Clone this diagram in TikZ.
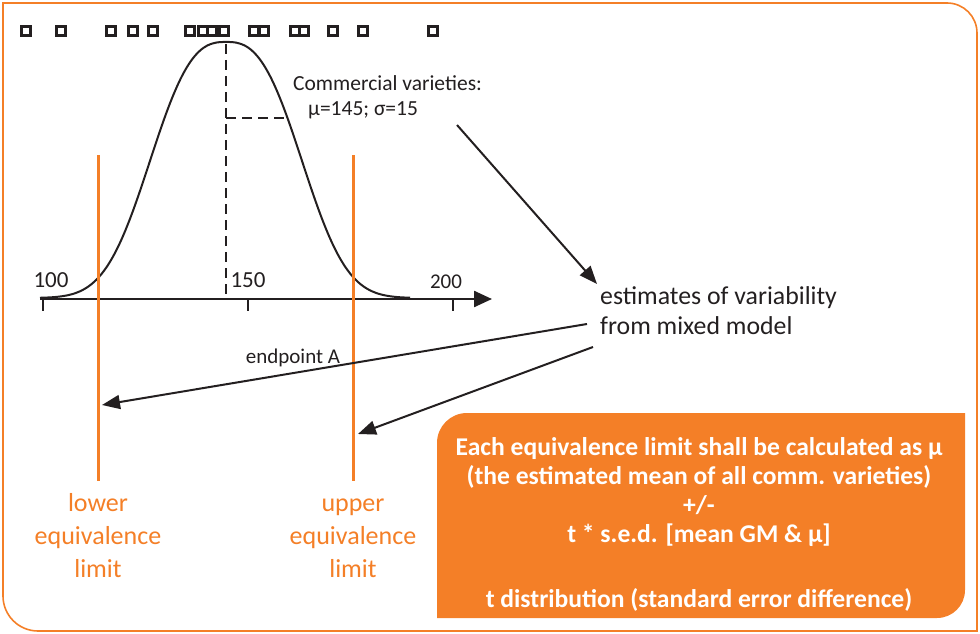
\documentclass[tikz,border=0pt]{standalone}
\usepackage{fontspec}
\setmainfont{Carlito}
\usetikzlibrary{arrows.meta}
\definecolor{orng}{HTML}{F47F27}
\definecolor{ink}{HTML}{231F20}
\begin{document}
\begin{tikzpicture}[x=1pt,y=-1pt,
  sq/.style={draw=ink, line width=3.6pt, minimum size=9pt, inner sep=0pt},
  lbl/.style={text=ink, inner sep=0pt},
  orngline/.style={draw=orng, line width=3pt},
  orngtxt/.style={text=orng, align=center, inner sep=0pt, font=\fontsize{26}{33}\selectfont},
  arr/.style={draw=ink, line width=2pt, -{Triangle[length=18pt,width=14pt]}},
  dsh/.style={draw=ink, line width=2.6pt, dash pattern=on 10pt off 6pt}
]
\useasboundingbox (0,0) rectangle (980,634);
% frame
\draw[orng, line width=1.6pt] (3,3) -- (947,3) .. controls (963.6,3) and (977,16.4) .. (977,33) -- (977,631) -- (38,631) .. controls (18.7,631) and (3,615.3) .. (3,596) -- cycle;
% box
\fill[orng] (437,443) .. controls (437,426.4) and (450.4,413) .. (467,413) -- (965,413) -- (965,590) .. controls (965,605.5) and (952.5,618) .. (937,618) -- (437,618) -- cycle;
\node[text=white, align=center, inner sep=0pt, font=\bfseries\fontsize{25.6}{29}\selectfont] (box) at (699,524) {Each equivalence limit shall be calculated as μ\\(the estimated mean of all comm. varieties)\\+/-\\t * s.e.d. [mean GM \& μ]\\[36pt]t distribution (standard error difference)};
% squares
\foreach \xx [count=\i] in {26,61,111,133,153,190,203,212,224,254,264,295,304,333,363,433}
  \node[sq] (s\i) at (\xx,31) {};
% curve
\draw[ink, line width=2pt] plot[domain=40:410, samples=180, smooth] (\x, {298 - 256*exp(-exp(2.7*ln((abs(\x-226)+0.01)/90.5)))});
\draw[dsh] (226,44) -- (226,297);
\draw[dsh] (226,118) -- (288,118);
% axis
\coordinate (ax0) at (40,299);
\coordinate (ax1) at (492,299);
\draw[ink, line width=2.4pt, -{Triangle[length=18pt,width=16pt]}] (ax0) -- (ax1);
\foreach \xx in {43,248,453} \draw[ink, line width=2.2pt] (\xx,299) -- (\xx,311);
\node[lbl, anchor=base, font=\fontsize{23}{23}\selectfont] (n100) at (51,287) {100};
\node[lbl, anchor=base, font=\fontsize{23}{23}\selectfont] (n150) at (248,287) {150};
\node[lbl, anchor=base, font=\fontsize{21}{21}\selectfont] (n200) at (446,288) {200};
% texts
\node[lbl, anchor=base west, font=\fontsize{21.5}{21}\selectfont] (comm) at (293,90) {Commercial varieties:};
\node[lbl, anchor=base west, font=\fontsize{21.5}{21}\selectfont] (mu) at (308,115) {μ=145; σ=15};
\node[lbl, anchor=base west, font=\fontsize{25.8}{30}\selectfont] (est) at (600,304) {estimates of variability};
\node[lbl, anchor=base west, font=\fontsize{25.8}{30}\selectfont] (mix) at (600,334) {from mixed model};
\node[lbl, anchor=base, font=\fontsize{21}{21}\selectfont] (ep) at (293,363) {endpoint A};
% orange limits
\coordinate (lo1) at (98,155); \coordinate (lo2) at (98,481);
\coordinate (up1) at (353,155); \coordinate (up2) at (353,481);
\draw[orngline] (lo1) -- (lo2);
\draw[orngline] (up1) -- (up2);
\node[orngtxt, anchor=north] (lowl) at (98,493) {lower\\equivalence\\limit};
\node[orngtxt, anchor=north] (upl) at (353,493) {\vphantom{l}upper\\equivalence\\limit};
% arrows
\coordinate (a1s) at (457,125); \coordinate (a1e) at (597,284);
\coordinate (a2s) at (587,324); \coordinate (a2e) at (102,405);
\coordinate (a3s) at (593,347); \coordinate (a3e) at (358,434);
\draw[arr] (a1s) -- (a1e);
\draw[arr] (a2s) -- (a2e);
\draw[arr] (a3s) -- (a3e);
\end{tikzpicture}
\end{document}
